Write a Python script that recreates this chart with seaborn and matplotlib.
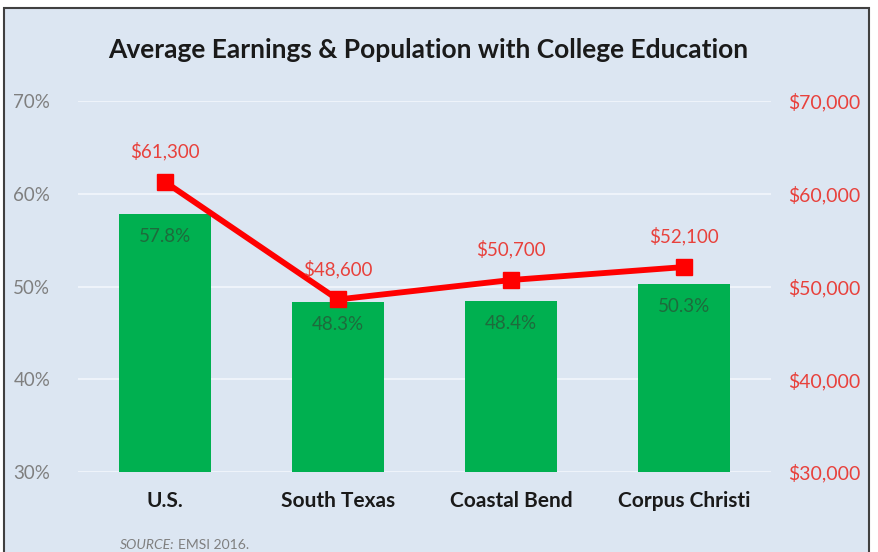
import matplotlib
matplotlib.use("Agg")
import matplotlib.pyplot as plt
import seaborn as sns
import pandas as pd
from matplotlib.patches import Rectangle
from matplotlib.ticker import FuncFormatter

categories = ["U.S.", "South Texas", "Coastal Bend", "Corpus Christi"]
college_pct = [57.8, 48.3, 48.4, 50.3]
earnings = [61300, 48600, 50700, 52100]
pct_ticks = [30, 40, 50, 60, 70]
earn_ticks = [30000, 40000, 50000, 60000, 70000]

sns.set_theme(style="white")
plt.rcParams["font.family"] = ["Lato", "DejaVu Sans"]

BG = "#dce6f2"
GREEN = "#00b050"
RED = "#ff0000"
LABEL_RED = "#e8413c"

fig = plt.figure(figsize=(8.79, 5.52), dpi=100)
fig.patch.set_facecolor("white")
# framed panel
fig.patches.append(Rectangle((4 / 879, -0.05), (869 - 4) / 879, 1 - 8 / 552 + 0.05,
                             transform=fig.transFigure, facecolor=BG,
                             edgecolor="#404040", linewidth=1.5, zorder=-10))

ax = fig.add_axes([78 / 879, 1 - 472 / 552, (771 - 78) / 879, (472 - 101) / 552])
ax.set_facecolor("none")

df = pd.DataFrame({"cat": categories, "pct": college_pct})
sns.barplot(data=df, x="cat", y="pct", color=GREEN, saturation=1, width=0.53,
            linewidth=0, edgecolor="none", ax=ax, zorder=2)
ax.set_ylim(30, 70)
ax.set_xlim(-0.5, 3.5)
ax.set_yticks(pct_ticks)
ax.yaxis.set_major_formatter(FuncFormatter(lambda v, p: f"{v:.0f}%"))
ax.grid(axis="y", color="#eef3fa", linewidth=1.5, zorder=0)
ax.set_axisbelow(True)
for s in ax.spines.values():
    s.set_visible(False)
ax.tick_params(axis="y", length=0, labelsize=13.5, labelcolor="#7f7f7f", pad=20)
ax.tick_params(axis="x", length=0, labelsize=15, pad=14)
for lab in ax.get_xticklabels():
    lab.set_fontweight("bold")
    lab.set_color("#1a1a1a")
ax.set_xlabel("")
ax.set_ylabel("")

for i, v in enumerate(college_pct):
    ax.text(i, v - 1.5, f"{v:.1f}%", ha="center", va="top", fontsize=13.5,
            color="#1e6b3c", zorder=3)

ax2 = ax.twinx()
ax2.set_ylim(30000, 70000)
ax2.plot(range(len(categories)), earnings, color=RED, linewidth=4.2, marker="s",
         markersize=12, zorder=4)
ax2.set_yticks(earn_ticks)
ax2.yaxis.set_major_formatter(FuncFormatter(lambda v, p: f"${v:,.0f}"))
ax2.tick_params(axis="y", length=0, labelsize=14, labelcolor=LABEL_RED, pad=12)
for s in ax2.spines.values():
    s.set_visible(False)
ax2.grid(False)
for i, v in enumerate(earnings):
    ax2.text(i, v + 2300, f"${v:,.0f}", ha="center", va="bottom", fontsize=13.5,
             color=LABEL_RED, zorder=5)

fig.text(428 / 879, 1 - 50 / 552, "Average Earnings & Population with College Education",
         ha="center", va="center", fontsize=19, fontweight="bold", color="#1a1a1a")

t1 = fig.text(120 / 879, 1 - 545 / 552, "SOURCE:", ha="left", va="center", fontsize=10,
              style="italic", color="#7f7f7f")
fig.canvas.draw()
bb = t1.get_window_extent()
fig.text((bb.x1 + 3) / 879, 1 - 545 / 552, "EMSI 2016.", ha="left", va="center", fontsize=10,
         color="#7f7f7f")

fig.savefig("out.png", dpi=100, facecolor=fig.get_facecolor())
